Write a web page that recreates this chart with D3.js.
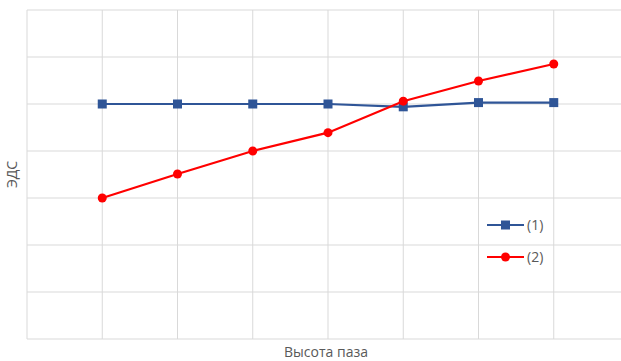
<!DOCTYPE html>
<html>
<head>
<meta charset="utf-8">
<script src="https://cdn.jsdelivr.net/npm/d3@7"></script>
<style>
  body { margin: 0; background: #fff; }
  text { font-family: "Open Sans", Lato, sans-serif; fill: #595959; }
</style>
</head>
<body>
<div id="chart-area"></div>
<script>
const categories = [1, 2, 3, 4, 5, 6, 7];
const series1 = [5.0, 5.0, 5.0, 5.0, 4.94, 5.03, 5.03];
const series2 = [3.0, 3.51, 4.0, 4.39, 5.06, 5.49, 5.85];
const seriesNames = ["(1)", "(2)"];
const yTicks = [0, 1, 2, 3, 4, 5, 6, 7];
const xGrid = [0, 1, 2, 3, 4, 5, 6, 7, 8];

const margin = {top: 10, right: 0, bottom: 22, left: 27};
const width = 621, height = 361;
const plotW = 602;
const plotH = height - margin.top - margin.bottom;

var svg = d3.select("#chart-area").append("svg")
    .attr("width", width)
    .attr("height", height);

var g = svg.append("g")
    .attr("transform", "translate(" + margin.left + "," + margin.top + ")");

var xScale = d3.scaleLinear().domain([0, 8]).range([0, plotW]);
var yScale = d3.scaleLinear().domain([0, 7]).range([plotH, 0]);

// grid
g.selectAll("line.hgrid")
 .data(yTicks)
 .enter().append("line")
 .attr("class", "hgrid")
 .attr("x1", 0).attr("x2", plotW)
 .attr("y1", d => yScale(d)).attr("y2", d => yScale(d))
 .attr("stroke", "#d9d9d9").attr("stroke-width", 1);

g.selectAll("line.vgrid")
 .data(xGrid)
 .enter().append("line")
 .attr("class", "vgrid")
 .attr("x1", d => xScale(d)).attr("x2", d => xScale(d))
 .attr("y1", 0).attr("y2", plotH)
 .attr("stroke", "#d9d9d9").attr("stroke-width", 1);

var line = d3.line()
    .x((d, i) => xScale(categories[i]))
    .y(d => yScale(d));

// series 1
g.append("path")
 .datum(series1)
 .attr("d", line)
 .attr("fill", "none")
 .attr("stroke", "#2f5597").attr("stroke-width", 2.2);

g.selectAll("rect.m1")
 .data(series1)
 .enter().append("rect")
 .attr("class", "m1")
 .attr("x", (d, i) => xScale(categories[i]) - 4.5)
 .attr("y", d => yScale(d) - 4.5)
 .attr("width", 9).attr("height", 9)
 .attr("fill", "#2f5597");

// series 2
g.append("path")
 .datum(series2)
 .attr("d", line)
 .attr("fill", "none")
 .attr("stroke", "#ff0000").attr("stroke-width", 2.2);

g.selectAll("circle.m2")
 .data(series2)
 .enter().append("circle")
 .attr("class", "m2")
 .attr("cx", (d, i) => xScale(categories[i]))
 .attr("cy", d => yScale(d))
 .attr("r", 4.5)
 .attr("fill", "#ff0000");

// legend
var legend = svg.append("g").attr("transform", "translate(487,225)");
legend.append("line").attr("x1", 0).attr("x2", 37).attr("y1", 0).attr("y2", 0)
  .attr("stroke", "#2f5597").attr("stroke-width", 2.2);
legend.append("rect").attr("x", 14).attr("y", -4.5).attr("width", 9).attr("height", 9)
  .attr("fill", "#2f5597");
legend.append("text").attr("x", 40).attr("y", 5).attr("font-size", 14).text(seriesNames[0]);

legend.append("line").attr("x1", 0).attr("x2", 37).attr("y1", 32).attr("y2", 32)
  .attr("stroke", "#ff0000").attr("stroke-width", 2.2);
legend.append("circle").attr("cx", 18.5).attr("cy", 32).attr("r", 4.5)
  .attr("fill", "#ff0000");
legend.append("text").attr("x", 40).attr("y", 37).attr("font-size", 14).text(seriesNames[1]);

// axis titles
svg.append("text")
 .attr("x", 326).attr("y", 357)
 .attr("text-anchor", "middle")
 .attr("font-size", 14)
 .text("Высота паза");

svg.append("text")
 .attr("transform", "translate(17," + (margin.top + plotH / 2) + ") rotate(-90)")
 .attr("text-anchor", "middle")
 .attr("font-size", 14)
 .text("ЭДС");
</script>
</body>
</html>
